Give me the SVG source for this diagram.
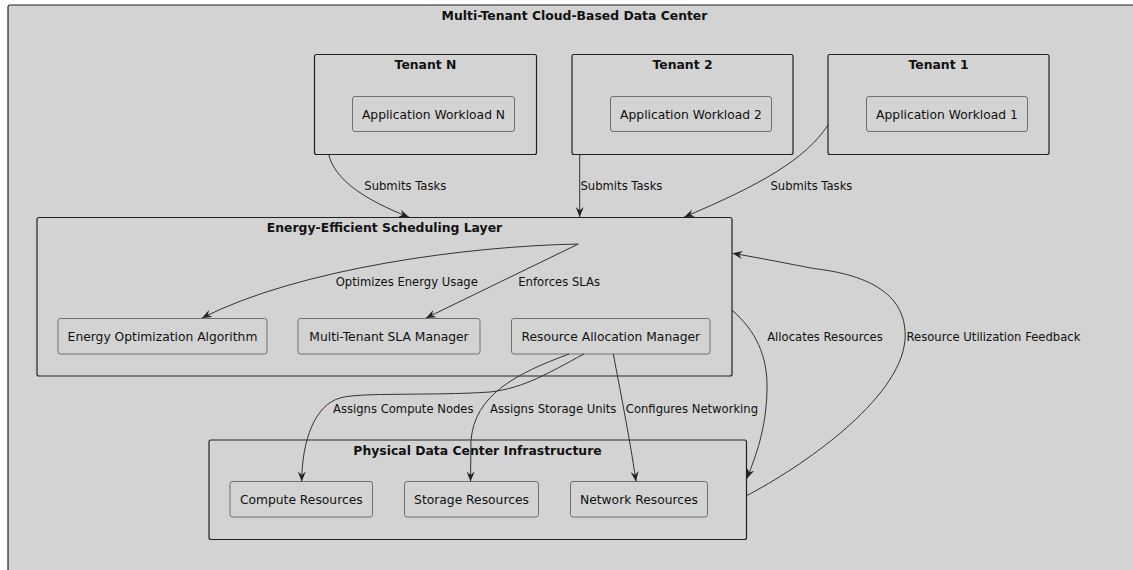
<svg xmlns="http://www.w3.org/2000/svg" width="1133" height="570" viewBox="0 0 1133 570">
<style>
text{font-family:"DejaVu Sans","Liberation Sans",sans-serif;font-size:12.3px;fill:#111}
.t{font-weight:bold;text-anchor:middle;font-size:12.4px}
.c{text-anchor:middle}
.l{font-size:11.6px}
.layer{fill:none;stroke:#222;stroke-width:1.2}
.box{fill:#d3d3d3;stroke:#707070;stroke-width:1}
.e{fill:none;stroke:#333;stroke-width:1}
</style>
<defs>
<marker id="ah" markerUnits="userSpaceOnUse" markerWidth="11" markerHeight="9" refX="10" refY="4.5" orient="auto">
<path d="M0,0.5 L10,4.5 L0,8.5 L3.5,4.5 Z" fill="#222"/>
</marker>
</defs>
<rect x="0" y="0" width="1133" height="570" fill="#ffffff"/>
<g id="datacenter">
<rect x="8" y="5" width="1140" height="600" rx="2" fill="#d3d3d3" stroke="#222" stroke-width="1.2"/>
<text class="t" x="574.5" y="19.5">Multi-Tenant Cloud-Based Data Center</text>
</g>
<g id="tenantN">
<rect class="layer" x="314.5" y="54.5" width="222" height="100" rx="2"/>
<text class="t" x="425.5" y="69">Tenant N</text>
</g>
<g id="workloadN">
<rect class="box" x="352.5" y="96.5" width="162" height="35" rx="2.5"/>
<text class="c" x="433.5" y="118.5">Application Workload N</text>
</g>
<g id="tenant2">
<rect class="layer" x="572" y="54.5" width="221" height="100" rx="2"/>
<text class="t" x="682.5" y="69">Tenant 2</text>
</g>
<g id="workload2">
<rect class="box" x="610.5" y="96.5" width="161" height="35" rx="2.5"/>
<text class="c" x="691" y="118.5">Application Workload 2</text>
</g>
<g id="tenant1">
<rect class="layer" x="828" y="54.5" width="221" height="100" rx="2"/>
<text class="t" x="938.5" y="69">Tenant 1</text>
</g>
<g id="workload1">
<rect class="box" x="866.5" y="96.5" width="161" height="35" rx="2.5"/>
<text class="c" x="947" y="118.5">Application Workload 1</text>
</g>
<g id="scheduling">
<rect class="layer" x="37" y="217.5" width="695" height="158.5" rx="2"/>
<text class="t" x="384.5" y="232">Energy-Efficient Scheduling Layer</text>
</g>
<g id="energyopt">
<rect class="box" x="58" y="318.5" width="209" height="35.5" rx="2.5"/>
<text class="c" x="162.5" y="341">Energy Optimization Algorithm</text>
</g>
<g id="slamanager">
<rect class="box" x="298" y="318.5" width="182" height="35.5" rx="2.5"/>
<text class="c" x="389" y="341">Multi-Tenant SLA Manager</text>
</g>
<g id="ram">
<rect class="box" x="511.5" y="318.5" width="198.5" height="35.5" rx="2.5"/>
<text class="c" x="610.8" y="341">Resource Allocation Manager</text>
</g>
<g id="physical">
<rect class="layer" x="209" y="440" width="537.5" height="99.5" rx="2"/>
<text class="t" x="477.5" y="454.5">Physical Data Center Infrastructure</text>
</g>
<g id="compute">
<rect class="box" x="230" y="481.5" width="142.5" height="35.5" rx="2.5"/>
<text class="c" x="301.3" y="504">Compute Resources</text>
</g>
<g id="storage">
<rect class="box" x="404.5" y="481.5" width="134" height="35.5" rx="2.5"/>
<text class="c" x="471.5" y="504">Storage Resources</text>
</g>
<g id="network">
<rect class="box" x="570.5" y="481.5" width="137" height="35.5" rx="2.5"/>
<text class="c" x="639" y="504">Network Resources</text>
</g>
<g id="connectors">
<path class="e" marker-end="url(#ah)" d="M328.6,154.5 C335,180 365,200 408.9,217"/>
<path class="e" marker-end="url(#ah)" d="M579.7,154.5 L579.7,217"/>
<path class="e" marker-end="url(#ah)" d="M828.3,124.7 C805,160 760,185 684.3,217"/>
<path class="e" marker-end="url(#ah)" d="M578.3,244 C470,246 300,268 202,318"/>
<path class="e" marker-end="url(#ah)" d="M578.3,244 L426,318"/>
<path class="e" marker-end="url(#ah)" d="M584,354 C550,372 525,388 490,392 C430,396 360,392 340,398 C315,405 302,440 301.7,481.5"/>
<path class="e" marker-end="url(#ah)" d="M569,354 C515,374 475,395 471,440 L470.5,481.5"/>
<path class="e" marker-end="url(#ah)" d="M613.3,354 C622,400 630,440 636,481.5"/>
<path class="e" marker-end="url(#ah)" d="M731.8,310 C755,330 768,355 767,390 C766,430 756,455 747,478.5"/>
<path class="e" marker-end="url(#ah)" d="M746.5,495.7 C800,468 900,400 905,340 C908,295 870,275 813.6,268.5 C790,264 760,258 732.5,253.3"/>
<text class="l" x="364.3" y="190">Submits Tasks</text>
<text class="l" x="580.5" y="190">Submits Tasks</text>
<text class="l" x="770.5" y="190">Submits Tasks</text>
<text class="l" x="335.7" y="286">Optimizes Energy Usage</text>
<text class="l" x="518.3" y="286">Enforces SLAs</text>
<text class="l" x="767.2" y="340.5">Allocates Resources</text>
<text class="l" x="906.5" y="340.5">Resource Utilization Feedback</text>
<text class="l" x="333" y="412.7">Assigns Compute Nodes</text>
<text class="l" x="490" y="412.7">Assigns Storage Units</text>
<text class="l" x="625.8" y="412.7">Configures Networking</text>
</g>
</svg>
